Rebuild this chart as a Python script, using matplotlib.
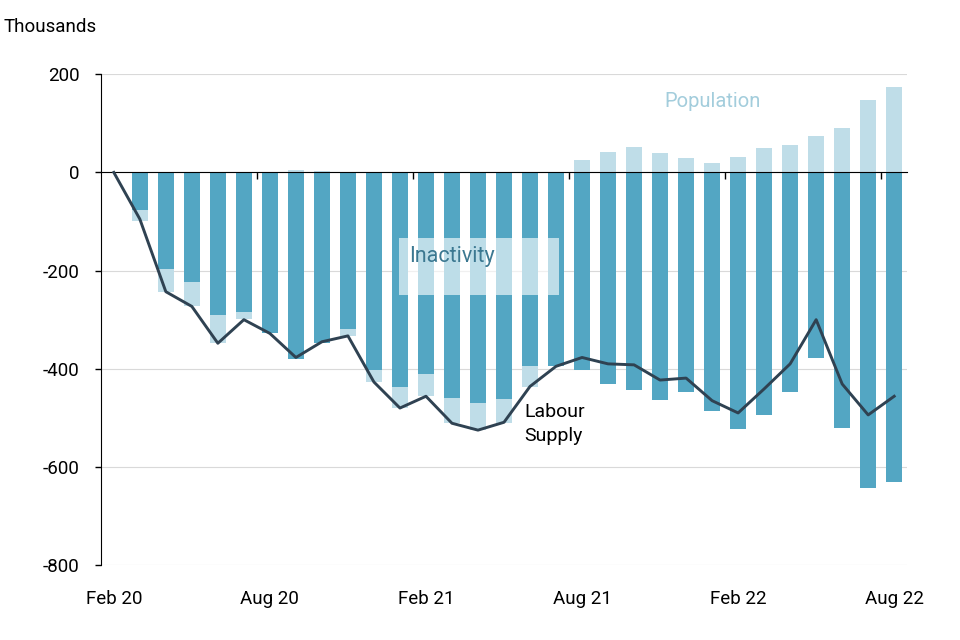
import matplotlib.pyplot as plt
import numpy as np
from matplotlib.patches import Rectangle

plt.rcParams['font.family'] = ['Roboto', 'DejaVu Sans']
plt.rcParams['axes.unicode_minus'] = False

months = ['Feb 20', 'Mar 20', 'Apr 20', 'May 20', 'Jun 20', 'Jul 20', 'Aug 20', 'Sep 20',
          'Oct 20', 'Nov 20', 'Dec 20', 'Jan 21', 'Feb 21', 'Mar 21', 'Apr 21', 'May 21',
          'Jun 21', 'Jul 21', 'Aug 21', 'Sep 21', 'Oct 21', 'Nov 21', 'Dec 21', 'Jan 22',
          'Feb 22', 'Mar 22', 'Apr 22', 'May 22', 'Jun 22', 'Jul 22', 'Aug 22']
inactivity = [0, -77, -196, -224, -290, -284, -327, -381, -348, -320, -403, -437, -411,
              -460, -470, -462, -395, -395, -403, -431, -444, -464, -448, -487, -523,
              -495, -448, -378, -521, -642, -631]
population = [0, -22, -48, -49, -58, -15, 0, 4, 2, -13, -24, -42, -44, -51, -55, -48,
              -43, 0, 25, 41, 51, 39, 29, 20, 31, 49, 55, 75, 90, 147, 174]
labour_supply = [0, -95, -243, -273, -348, -300, -328, -377, -345, -333, -427, -480, -456,
                 -511, -525, -509, -436, -395, -377, -390, -392, -423, -419, -465, -490,
                 -441, -390, -300, -431, -494, -456]
tick_labels = ['Feb 20', 'Aug 20', 'Feb 21', 'Aug 21', 'Feb 22', 'Aug 22']

dark = '#53a6c3'
light = '#bfdde8'

x = np.arange(len(months))
inact = np.array(inactivity)
pop = np.array(population)
# population sits under the inactivity bar when negative, above zero when positive
pop_bottom = np.where(pop < 0, inact, 0)

fig = plt.figure(figsize=(9.6, 6.4), dpi=100)
ax = fig.add_axes([0.105, 0.117, 0.84, 0.767])

ax.bar(x, pop, bottom=pop_bottom, width=0.62, color=light, zorder=2)
ax.bar(x, inact, width=0.62, color=dark, zorder=2)
ax.plot(x, labour_supply, color='#2f4252', lw=2.1, zorder=4)

ax.set_xlim(-0.5, len(months) - 0.5)
ax.set_ylim(-800, 200)
ax.set_yticks([200, 0, -200, -400, -600, -800])
ax.yaxis.grid(True, color='#d9d9d9', lw=0.8)
ax.set_axisbelow(True)

# labels at the bottom, small tick marks on the zero line between months
ax.set_xticks(np.arange(5.5, len(months), 6))
ax.set_xticks(x[::6], minor=True)
ax.set_xticklabels([], minor=False)
ax.set_xticklabels(tick_labels, minor=True)
ax.xaxis.set_ticks_position('both')
ax.tick_params(axis='x', which='major', bottom=False, top=True, direction='in',
               length=5, width=1, color='black')
ax.tick_params(axis='x', which='minor', bottom=True, top=False, length=0, pad=18,
               labelsize=13.5)
ax.tick_params(axis='y', length=4.5, width=1, pad=11, labelsize=13.5)

ax.spines['top'].set_position(('data', 0))
ax.spines['top'].set_zorder(3)
ax.spines['right'].set_visible(False)
ax.spines['bottom'].set_visible(False)

ax.add_patch(Rectangle((10.98, -249), 6.15, 116, facecolor='white', alpha=0.62,
                       edgecolor='none', zorder=3))
ax.text(11.37, -172, 'Inactivity', color='#3b7891', fontsize=15.5, va='center',
        ha='left', zorder=5)
ax.text(23, 144, 'Population', color='#a3cddc', fontsize=14.5, va='center',
        ha='center', zorder=5)
ax.text(15.79, -513, 'Labour\nSupply', color='black', fontsize=14, va='center',
        ha='left', linespacing=1.4, zorder=5)

fig.text(0.004, 1 - 27 / 640, 'Thousands', fontsize=13.5, va='center', ha='left')

plt.savefig('out.png', dpi=100)
